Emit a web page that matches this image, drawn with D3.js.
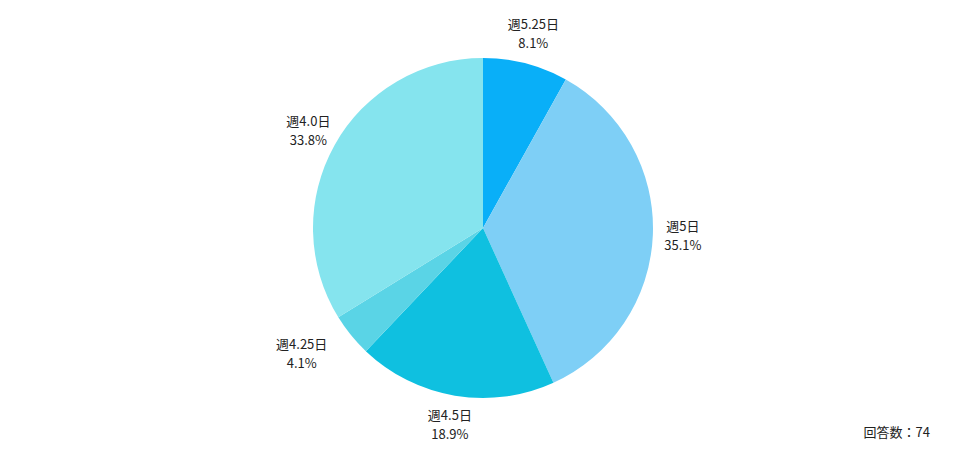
<!DOCTYPE html>
<html>
<head>
<meta charset="utf-8">
<script src="https://cdn.jsdelivr.net/npm/d3@7"></script>
<style>
  body { margin: 0; background: #fff; }
  text { font-family: "Noto Sans CJK JP", "Noto Sans", sans-serif; fill: #222; }
</style>
</head>
<body>
<div id="chart"></div>
<script>
  "use strict";
  // answers per working days, clockwise from 12 o'clock
  var categories = ["週5.25日", "週5日", "週4.5日", "週4.25日", "週4.0日"];
  var shares = [8.1, 35.1, 18.9, 4.1, 33.8];
  var colors = ["#09aff8", "#7ecff6", "#0fc0e0", "#5ad4e6", "#85e4ee"];
  var respondents = 74;

  var width = 976, height = 459;
  var cx = 483, cy = 228, rad = 170, labelRad = 200;

  var svg = d3.select("#chart").append("svg")
              .attr("width", width)
              .attr("height", height);

  var slices = categories.map(function(c, i) { return {name: c, value: shares[i], color: colors[i]}; });

  var pie = d3.pie().sort(null).value(function(d) { return d.value; });
  var arc = d3.arc().innerRadius(0).outerRadius(rad);
  var arcs = pie(slices);

  var g = svg.append("g").attr("transform", "translate(" + cx + "," + cy + ")");

  g.selectAll("path")
   .data(arcs).enter()
   .append("path")
   .attr("d", arc)
   .attr("fill", function(d) { return d.data.color; });

  // small slices get their label pushed sideways so it clears the neighbours
  function labelPos(d) {
    var a = (d.startAngle + d.endAngle) / 2;
    var x = Math.sin(a) * labelRad, y = -Math.cos(a) * labelRad;
    if (d.data.value < 5) x += (x < 0 ? -26 : 26);
    return [x, y];
  }

  var labels = g.selectAll("g.lbl")
                .data(arcs).enter()
                .append("g")
                .attr("class", "lbl")
                .attr("transform", function(d) { return "translate(" + labelPos(d).join(",") + ")"; });

  labels.append("text")
        .attr("text-anchor", "middle")
        .attr("y", -5)
        .attr("font-size", 13)
        .text(function(d) { return d.data.name; });

  labels.append("text")
        .attr("text-anchor", "middle")
        .attr("y", 14)
        .attr("font-size", 13)
        .text(function(d) { return d3.format(".1f")(d.data.value) + "%"; });

  svg.append("text")
     .attr("x", 930)
     .attr("y", 437)
     .attr("text-anchor", "end")
     .attr("font-size", 13)
     .text("回答数：" + respondents);
</script>
</body>
</html>
